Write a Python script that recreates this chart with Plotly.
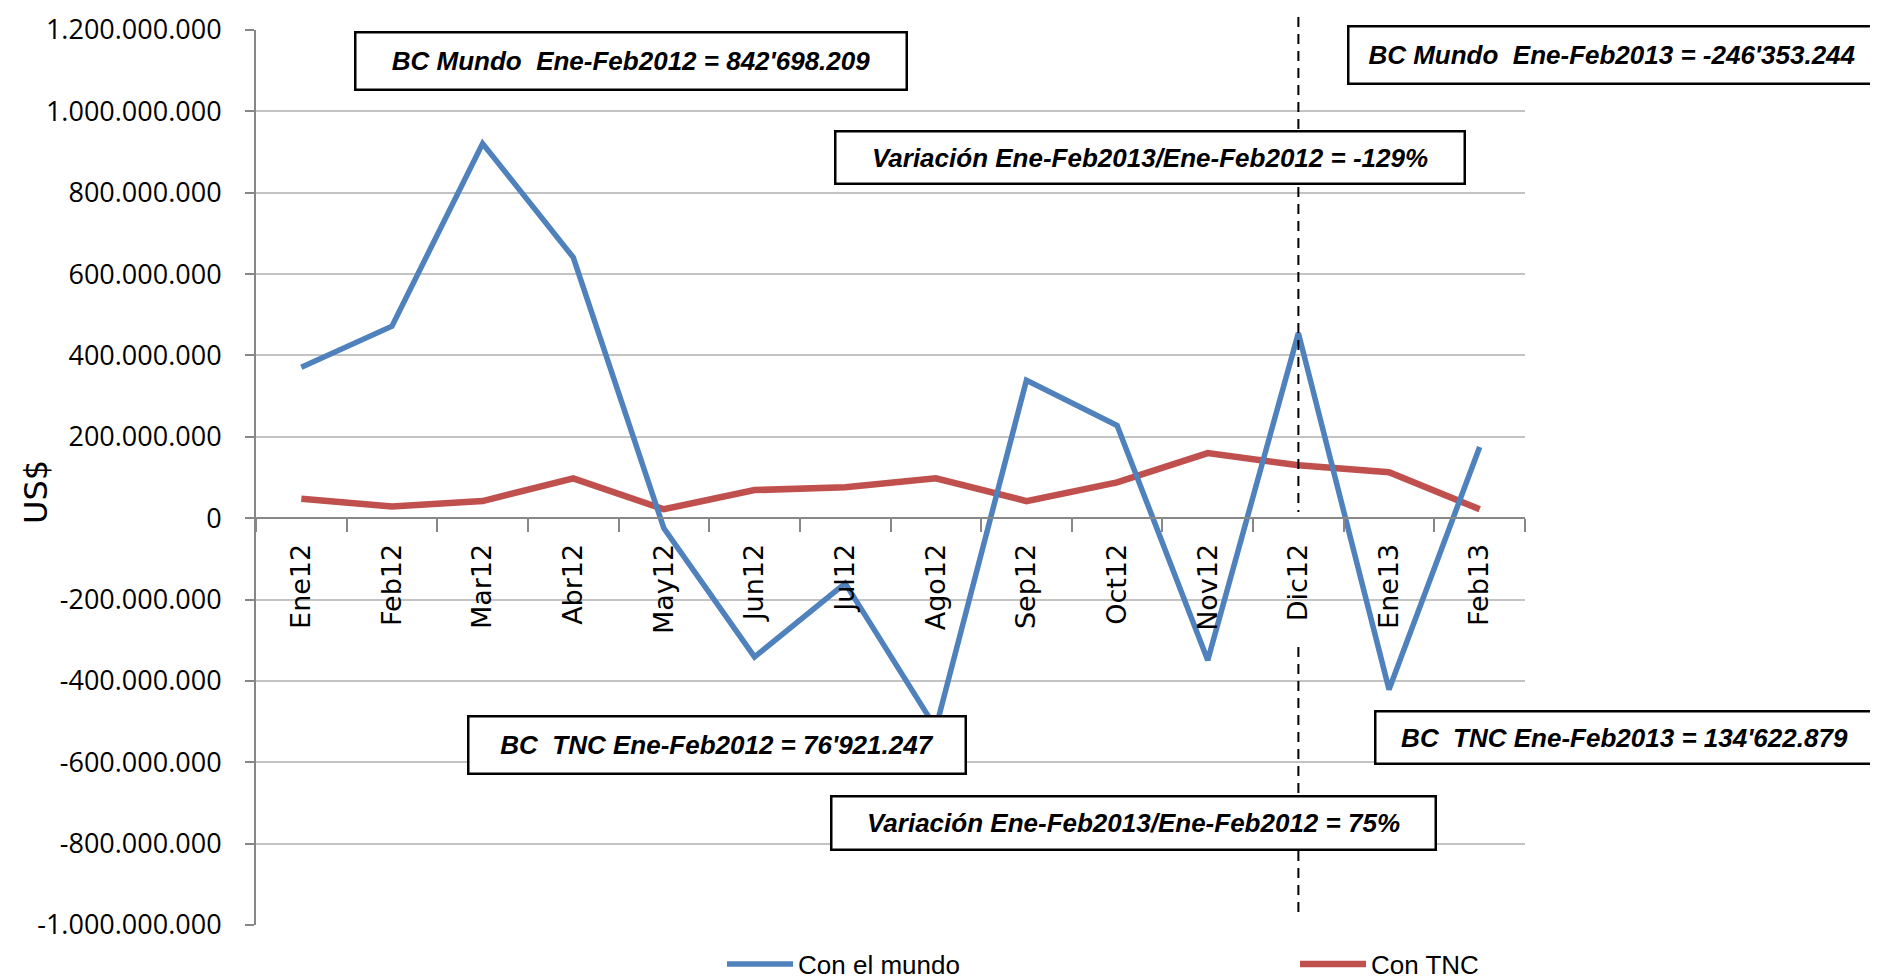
import plotly.graph_objects as go

categories = ["Ene12", "Feb12", "Mar12", "Abr12", "May12", "Jun12", "Jul12",
              "Ago12", "Sep12", "Oct12", "Nov12", "Dic12", "Ene13", "Feb13"]
con_el_mundo = [371e6, 472e6, 921e6, 641e6, -25e6, -341e6, -160e6,
                -516e6, 339e6, 228e6, -349e6, 455e6, -421e6, 175e6]
con_tnc = [48e6, 29e6, 42e6, 98e6, 22e6, 69e6, 76e6,
           98e6, 42e6, 88e6, 160e6, 130e6, 113e6, 22e6]
y_tickvals = [1.2e9, 1.0e9, 8e8, 6e8, 4e8, 2e8, 0, -2e8, -4e8, -6e8, -8e8, -1.0e9]
y_ticktext = ["1.200.000.000", "1.000.000.000", "800.000.000", "600.000.000",
              "400.000.000", "200.000.000", "0", "-200.000.000", "-400.000.000",
              "-600.000.000", "-800.000.000", "-1.000.000.000"]
y_title = "US$"
box_texts = [
    "BC Mundo  Ene-Feb2012 = 842'698.209",
    "BC Mundo  Ene-Feb2013 = -246'353.244",
    "Variación Ene-Feb2013/Ene-Feb2012 = -129%",
    "BC  TNC Ene-Feb2012 = 76'921.247",
    "BC  TNC Ene-Feb2013 = 134'622.879",
    "Variación Ene-Feb2013/Ene-Feb2012 = 75%",
]

OFF = 8  # page body margin
W, H = 1878 - OFF, 979 - OFF
L, R, T, B = 256, 1525, 30, 925  # plot area in screenshot pixels
pw, ph = R - L, B - T


def px(x):
    return (x - L) / pw


def py(y):
    return (B - y) / ph


fig = go.Figure()
fig.add_trace(go.Scatter(x=categories, y=con_tnc, mode="lines", name="Con TNC",
                         line=dict(color="#C0504D", width=6.5), legendrank=2))
fig.add_trace(go.Scatter(x=categories, y=con_el_mundo, mode="lines", name="Con el mundo",
                         line=dict(color="#4F81BD", width=5.5), legendrank=1))

box_font = dict(family="Liberation Sans", size=26, color="black")
box_geom = [  # (cx, cy, w, h) in screenshot pixels
    (631, 61, 552, 58),
    (1612, 55, 528, 58),
    (1150, 157.5, 630, 53),
    (717, 745, 498, 58),
    (1624.5, 737.5, 499, 53),
    (1133.5, 823, 605, 54),
]
annotations = []
for t, (cx, cy, w, h) in zip(box_texts, box_geom):
    annotations.append(dict(
        text="<b><i>" + t + "</i></b>", xref="paper", yref="paper",
        x=px(cx), y=py(cy), xanchor="center", yanchor="middle",
        showarrow=False, width=w - 3, height=h - 3, align="center", valign="middle",
        bgcolor="white", bordercolor="black", borderwidth=2.5, borderpad=0,
        font=box_font))
annotations.append(dict(
    text=y_title, xref="paper", yref="paper", x=px(36), y=py(492),
    xanchor="center", yanchor="middle", textangle=-90, showarrow=False,
    font=dict(family="DejaVu Sans", size=32, color="black")))

dic_idx = categories.index("Dic12")
shapes = [
    dict(type="line", xref="x", yref="paper", x0=dic_idx, x1=dic_idx,
         y0=py(17), y1=py(512), line=dict(color="black", width=2, dash="10px,7px"),
         layer="above"),
    dict(type="line", xref="x", yref="paper", x0=dic_idx, x1=dic_idx,
         y0=py(647), y1=py(917), line=dict(color="black", width=2, dash="10px,7px"),
         layer="above"),
    dict(type="line", xref="paper", yref="paper", x0=px(3), x1=px(3),
         y0=py(0), y1=py(979), line=dict(color="#9a9a9a", width=2)),
]

fig.update_layout(
    width=W, height=H,
    margin=dict(l=L - OFF, r=W - (R - OFF), t=T - OFF, b=H - (B - OFF), autoexpand=False),
    paper_bgcolor="white", plot_bgcolor="white",
    showlegend=True,
    legend=dict(orientation="h", x=px(722), y=py(964), xanchor="left", yanchor="middle",
                entrywidth=492, entrywidthmode="pixels", itemwidth=66,
                font=dict(family="Liberation Sans", size=26, color="black"),
                bgcolor="rgba(0,0,0,0)"),
    annotations=annotations,
    shapes=shapes,
    xaxis=dict(
        type="category", categoryorder="array", categoryarray=categories,
        anchor="free", position=py(518),
        showline=True, linecolor="#878787", linewidth=2,
        ticks="outside", tickson="boundaries", ticklen=13, tickcolor="#878787", tickwidth=2,
        tickangle=-90, ticklabelstandoff=14,
        tickfont=dict(family="DejaVu Sans", size=27, color="black"),
        showgrid=False, zeroline=False, range=[-0.5, len(categories) - 0.5],
    ),
    yaxis=dict(
        range=[-1.0e9, 1.2e9], tickvals=y_tickvals, ticktext=y_ticktext,
        showline=True, linecolor="#878787", linewidth=2,
        ticks="outside", ticklen=9, tickcolor="#878787", tickwidth=2,
        ticklabelstandoff=18,
        tickfont=dict(family="Open Sans", size=27, color="black"),
        showgrid=True, gridcolor="#c3c3c3", gridwidth=2, zeroline=False,
    ),
)

fig.write_html("out.html")
